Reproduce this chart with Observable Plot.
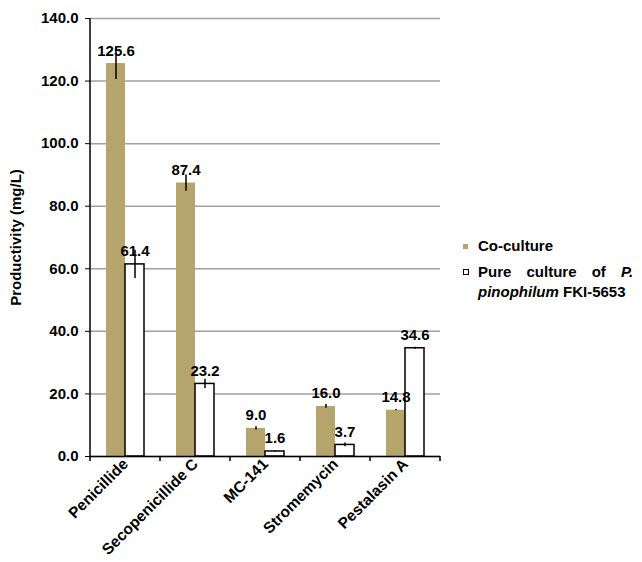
<!DOCTYPE html>
<html>
<head>
<meta charset="utf-8">
<script src="https://cdn.jsdelivr.net/npm/d3@7"></script>
<script src="https://cdn.jsdelivr.net/npm/@observablehq/plot@0.6"></script>
<style>
  html, body { margin: 0; padding: 0; background: #fff; }
  #wrap { position: relative; width: 642px; height: 562px; overflow: hidden; }
  .legend { position: absolute; left: 463px; top: 236px; font-family: "Liberation Sans", Arial, sans-serif; font-weight: bold; font-size: 15px; color: #000; line-height: 20px; white-space: nowrap; }
  .legend .row { position: relative; padding-left: 15px; }
  .legend .sw { position: absolute; left: 0; top: 8px; width: 5px; height: 5px; box-sizing: border-box; }
</style>
</head>
<body>
<div id="wrap"></div>
<script>
const categories = ["Penicillide", "Secopenicillide C", "MC-141", "Stromemycin", "Pestalasin A"];
const series = ["Co-culture", "Pure culture of P. pinophilum FKI-5653"];
const coValues = [125.6, 87.4, 9.0, 16.0, 14.8];
const pureValues = [61.4, 23.2, 1.6, 3.7, 34.6];
const coErrors = [5.1, 2.6, 0.5, 0.6, 0.2];
const pureErrors = [4.5, 1.5, 0.2, 0.6, 0.3];
const yTicks = [0, 20, 40, 60, 80, 100, 120, 140];

const khaki = "#b5a46c";

const data = [];
categories.forEach((c, i) => {
  data.push({cat: c, series: series[0], value: coValues[i], err: coErrors[i]});
  data.push({cat: c, series: series[1], value: pureValues[i], err: pureErrors[i]});
});

const plot = Plot.plot({
  width: 642,
  height: 562,
  marginLeft: 88,
  marginRight: 200,
  marginTop: 18,
  marginBottom: 106,
  style: {fontFamily: "'Liberation Sans', Arial, sans-serif", fontWeight: "bold", fontSize: "15px", color: "#000", background: "#fff"},
  fx: {domain: categories, padding: 0, label: null},
  x: {domain: series, paddingInner: 0, paddingOuter: 0.77, axis: null},
  y: {domain: [0, 140], label: null},
  color: {domain: series, range: [khaki, "#ffffff"]},
  marks: [
    Plot.gridY(yTicks, {stroke: "#a0a0a0", strokeOpacity: 1, strokeWidth: 1.5}),
    Plot.barY(data, {fx: "cat", x: "series", y: "value", fill: "series",
      stroke: d => d.series === series[1] ? "#000" : "none", strokeWidth: 1.5}),
    Plot.ruleX(data, {fx: "cat", x: "series", y1: d => d.value - d.err, y2: d => d.value + d.err, stroke: "#000", strokeWidth: 1.5}),
    Plot.text(data, {fx: "cat", x: "series", y: "value", text: d => d.value.toFixed(1), lineAnchor: "bottom", dy: -8, fontSize: 15, fontWeight: "bold", fill: "#000"}),
    Plot.axisY(yTicks, {tickFormat: d => d.toFixed(1), tickSize: 5, tickPadding: 7, fontSize: 15, label: "Productivity (mg/L)", labelAnchor: "center", labelOffset: 80, labelArrow: "none"}),
    Plot.axisFx({anchor: "bottom", tickRotate: -45, tickSize: 0, tickPadding: 5, fontSize: 15.5, label: null}),
    Plot.ruleY([0], {stroke: "#000", strokeWidth: 1.5})
  ]
});

// axis line and category boundary ticks, positioned from Plot's own scales
const fx = plot.scale("fx");
const y = plot.scale("y");
const svg = d3.select(plot);
const y0 = y.apply(0), y1 = y.apply(140);
const left = fx.apply(categories[0]);
svg.append("line").attr("x1", left).attr("x2", left).attr("y1", y0).attr("y2", y1)
  .attr("stroke", "#000").attr("stroke-width", 1.5);
const bounds = categories.map(c => fx.apply(c)).concat([fx.apply(categories[categories.length - 1]) + fx.step]);
bounds.forEach(b => {
  svg.append("line").attr("x1", b).attr("x2", b).attr("y1", y0).attr("y2", y0 + 5)
    .attr("stroke", "#000").attr("stroke-width", 1.5);
});

const wrap = document.getElementById("wrap");
wrap.appendChild(plot);

const legend = document.createElement("div");
legend.className = "legend";
legend.innerHTML = `
  <div class="row"><span class="sw" style="background:${khaki}"></span>${series[0]}</div>
  <div class="row" style="margin-top:6px"><span class="sw" style="background:#fff;border:1px solid #000;width:6px;height:6px;top:7px"></span><span style="word-spacing:11px">Pure culture of <i>P.</i></span><br><i>pinophilum</i> FKI-5653</div>
`;
wrap.appendChild(legend);
</script>
</body>
</html>
